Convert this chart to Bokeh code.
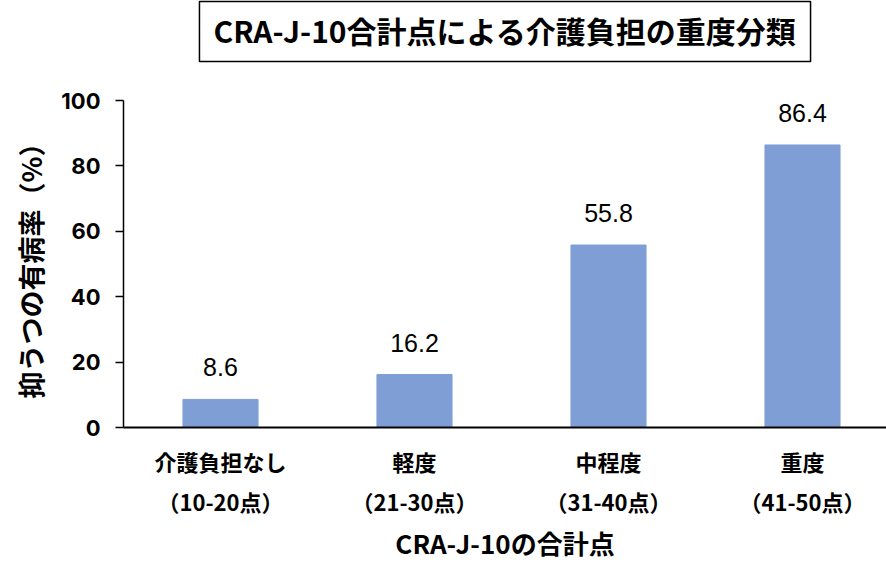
from bokeh.plotting import figure
from bokeh.models import LinearAxis, FixedTicker, Range1d, ColumnDataSource, Title
from bokeh.core.properties import value
from bokeh.embed import file_html
from bokeh.resources import INLINE

# ---- data ----
categories_line1 = ["介護負担なし", "軽度", "中程度", "重度"]
categories_line2 = ["（10-20点）", "（21-30点）", "（31-40点）", "（41-50点）"]
prevalence = [8.6, 16.2, 55.8, 86.4]
prevalence_labels = ["8.6", "16.2", "55.8", "86.4"]
y_ticks = [0, 20, 40, 60, 80, 100]

title_text = "CRA-J-10合計点による介護負担の重度分類"
x_title = "CRA-J-10の合計点"
y_title = "抑うつの有病率（%）"

positions = list(range(len(categories_line1)))
src = ColumnDataSource(dict(x=positions, top=prevalence, label=prevalence_labels))

JP = "Noto Sans CJK JP"
X_START, X_END = -0.5, 3.433
X_MID = (X_START + X_END) / 2

p = figure(width=886, height=564, output_backend="svg", toolbar_location=None,
           x_range=Range1d(X_START, X_END), y_range=Range1d(0, 100),
           x_axis_type=None, title=None,
           min_border_left=123, min_border_right=0, min_border_top=100,
           min_border_bottom=137)

p.outline_line_color = None
p.ygrid.grid_line_color = None
p.background_fill_color = "white"

# spacer between plot area and boxed title
spacer = Title(text=" ", text_font_size="1px", standoff=34)
p.add_layout(spacer, "above")

# boxed title
main_title = Title(text=title_text, align="center", vertical_align="top",
                   text_font=JP, text_font_size="30px", text_font_style="bold",
                   text_color="black", border_line_color="black",
                   border_line_width=1.5, standoff=0,
                   padding=dict(left=14, right=14, top=6, bottom=10))
p.add_layout(main_title, "above")

# bars
p.vbar(x="x", top="top", width=0.387, source=src, color="#7F9ED6")
p.text(x="x", y="top", text="label", source=src, text_align="center",
       text_baseline="middle", y_offset=-32,
       text_font=value("Liberation Sans"), text_font_size="25px",
       text_color="black")

# y axis
ya = p.yaxis[0]
ya.ticker = FixedTicker(ticks=y_ticks, minor_ticks=[])
ya.major_tick_out = 8
ya.major_tick_in = 0
ya.major_tick_line_width = 1.5
ya.major_tick_line_color = "black"
ya.axis_line_color = "black"
ya.axis_line_width = 1.5
ya.major_label_standoff = 15
ya.major_label_text_font = "Inter"
ya.major_label_text_font_style = "bold"
ya.major_label_text_font_size = "22px"
ya.major_label_text_color = "black"
ya.axis_label = y_title
ya.axis_label_text_font = JP
ya.axis_label_text_font_style = "bold"
ya.axis_label_text_font_size = "27px"
ya.axis_label_text_color = "black"
ya.axis_label_standoff = 8

# x axes: two label rows + title row
ax1 = LinearAxis(ticker=FixedTicker(ticks=positions, minor_ticks=[]),
                 major_label_overrides={i: s for i, s in zip(positions, categories_line1)})
ax2 = LinearAxis(ticker=FixedTicker(ticks=positions, minor_ticks=[]),
                 major_label_overrides={i: s for i, s in zip(positions, categories_line2)})
ax3 = LinearAxis(ticker=FixedTicker(ticks=[X_MID], minor_ticks=[]),
                 major_label_overrides={X_MID: x_title})
for ax in (ax1, ax2, ax3):
    ax.major_tick_line_color = None
    ax.minor_tick_line_color = None
    ax.major_label_text_font = JP
    ax.major_label_text_font_style = "bold"
    ax.major_label_text_font_size = "22px"
    ax.major_label_text_color = "black"
    ax.axis_line_color = None
ax1.axis_line_color = "black"
ax1.axis_line_width = 2
ax1.major_label_standoff = 11
ax2.major_label_standoff = -1
ax3.major_label_text_font_size = "26px"
ax3.major_label_standoff = -2
p.add_layout(ax1, "below")
p.add_layout(ax2, "below")
p.add_layout(ax3, "below")

open("out.html", "w").write(file_html(p, INLINE))
